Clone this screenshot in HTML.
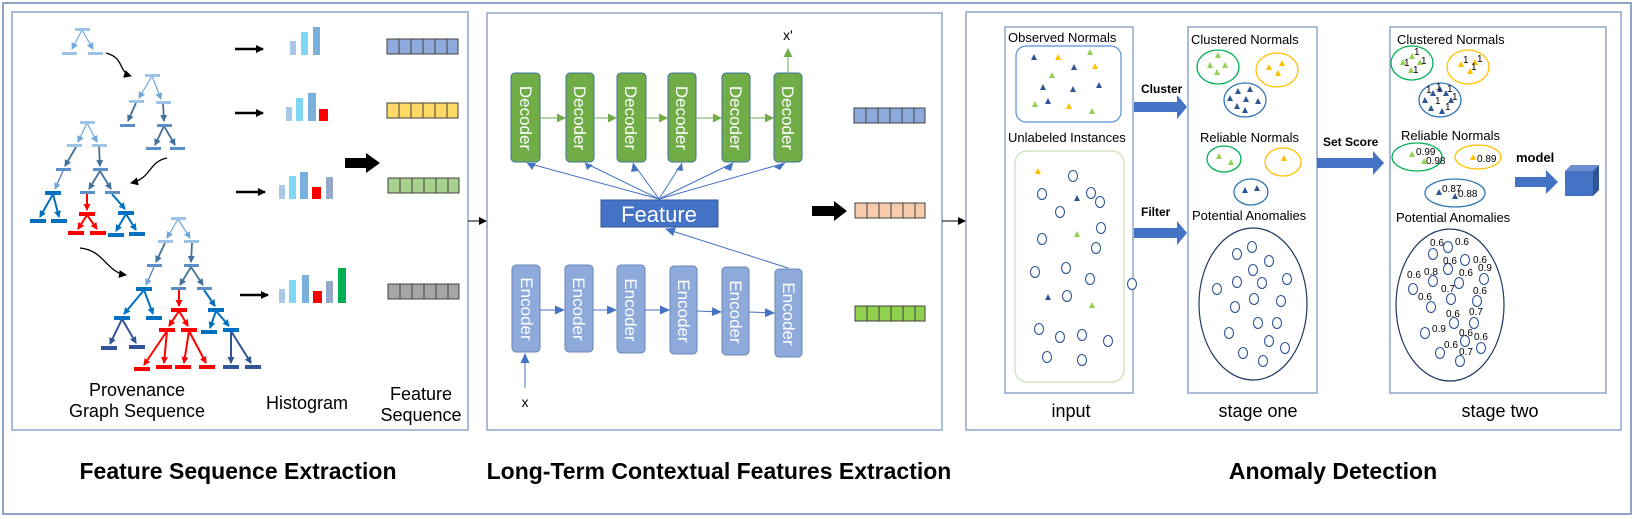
<!DOCTYPE html>
<html><head><meta charset="utf-8"><style>
html,body{margin:0;padding:0;background:#fff}
svg{display:block}
text{font-family:"Liberation Sans",sans-serif}
</style></head><body>
<svg width="1635" height="519" viewBox="0 0 1635 519" xmlns="http://www.w3.org/2000/svg">
<defs>
<marker id="ab" markerWidth="8" markerHeight="8" refX="7" refY="4" orient="auto" markerUnits="userSpaceOnUse"><path d="M0,0 L8,4 L0,8z" fill="#000"/></marker>
<marker id="ag" markerWidth="9" markerHeight="9" refX="8" refY="4.5" orient="auto" markerUnits="userSpaceOnUse"><path d="M0,0 L9,4.5 L0,9z" fill="#70ad47"/></marker>
<marker id="abl" markerWidth="10" markerHeight="9" refX="9" refY="4.5" orient="auto" markerUnits="userSpaceOnUse"><path d="M0,0 L10,4.5 L0,9z" fill="#4472c4"/></marker>
<marker id="t1" markerWidth="7" markerHeight="7" refX="6" refY="3.5" orient="auto" markerUnits="userSpaceOnUse"><path d="M0,0 L7,3.5 L0,7z" fill="#6fa8dc"/></marker>
<marker id="t2" markerWidth="7" markerHeight="7" refX="6" refY="3.5" orient="auto" markerUnits="userSpaceOnUse"><path d="M0,0 L7,3.5 L0,7z" fill="#0070c0"/></marker>
<marker id="t3" markerWidth="7" markerHeight="7" refX="6" refY="3.5" orient="auto" markerUnits="userSpaceOnUse"><path d="M0,0 L7,3.5 L0,7z" fill="#ff0000"/></marker>
<marker id="t4" markerWidth="7" markerHeight="7" refX="6" refY="3.5" orient="auto" markerUnits="userSpaceOnUse"><path d="M0,0 L7,3.5 L0,7z" fill="#2f5597"/></marker>
<marker id="t5" markerWidth="7" markerHeight="7" refX="6" refY="3.5" orient="auto" markerUnits="userSpaceOnUse"><path d="M0,0 L7,3.5 L0,7z" fill="#41719c"/></marker>
</defs>

<rect x="3" y="3" width="1628" height="511" fill="none" stroke="#8fa5c8" stroke-width="2"/>
<rect x="12" y="12" width="456" height="418" fill="none" stroke="#8fa5c8" stroke-width="1.5"/>
<rect x="487" y="13" width="455" height="417" fill="none" stroke="#8fa5c8" stroke-width="1.5"/>
<rect x="966" y="12" width="655" height="418" fill="none" stroke="#8fa5c8" stroke-width="1.5"/>
<line x1="468" y1="221" x2="486" y2="221" stroke="#000" stroke-width="1" marker-end="url(#ab)"/>
<line x1="942" y1="221" x2="965" y2="221" stroke="#000" stroke-width="1" marker-end="url(#ab)"/>

<g stroke-width="1.2" fill="none">
<g stroke="#6fa8dc"><line x1="82" y1="30" x2="72" y2="49" marker-end="url(#t1)"/><line x1="82" y1="30" x2="93" y2="49" marker-end="url(#t1)"/></g>
<g stroke="#6fa8dc"><line x1="152" y1="76" x2="139" y2="98" marker-end="url(#t1)"/><line x1="152" y1="76" x2="161" y2="99" marker-end="url(#t1)"/></g>
<g stroke="#41719c" stroke-width="1.8"><line x1="136" y1="103" x2="128" y2="121" marker-end="url(#t5)"/><line x1="163" y1="103" x2="164" y2="121" marker-end="url(#t5)"/><line x1="164" y1="126" x2="155" y2="145" marker-end="url(#t5)"/><line x1="164" y1="126" x2="175" y2="145" marker-end="url(#t5)"/></g>
<g stroke="#6fa8dc"><line x1="87" y1="123" x2="78" y2="142" marker-end="url(#t1)"/><line x1="87" y1="123" x2="97" y2="142" marker-end="url(#t1)"/></g>
<g stroke="#41719c" stroke-width="1.8"><line x1="76" y1="147" x2="65" y2="166" marker-end="url(#t5)"/><line x1="99" y1="147" x2="100" y2="166" marker-end="url(#t5)"/><line x1="100" y1="171" x2="89" y2="189" marker-end="url(#t5)"/><line x1="100" y1="171" x2="111" y2="189" marker-end="url(#t5)"/></g>
<line x1="63" y1="171" x2="55" y2="189" stroke="#4472c4" marker-end="url(#t1)"/>
<g stroke="#0070c0" stroke-width="2"><line x1="53" y1="194" x2="40" y2="217" marker-end="url(#t2)"/><line x1="53" y1="194" x2="59" y2="217" marker-end="url(#t2)"/><line x1="112" y1="194" x2="125" y2="209" marker-end="url(#t2)"/><line x1="126" y1="214" x2="116" y2="231" marker-end="url(#t2)"/><line x1="126" y1="214" x2="136" y2="230" marker-end="url(#t2)"/></g>
<g stroke="#ff0000" stroke-width="2"><line x1="87" y1="194" x2="87" y2="210" marker-end="url(#t3)"/><line x1="87" y1="215" x2="78" y2="229" marker-end="url(#t3)"/><line x1="87" y1="215" x2="97" y2="229" marker-end="url(#t3)"/></g>
<g stroke="#6fa8dc"><line x1="178" y1="219" x2="167" y2="238" marker-end="url(#t1)"/><line x1="178" y1="219" x2="190" y2="238" marker-end="url(#t1)"/></g>
<g stroke="#41719c" stroke-width="1.8"><line x1="165" y1="243" x2="156" y2="262" marker-end="url(#t5)"/><line x1="192" y1="243" x2="191" y2="262" marker-end="url(#t5)"/><line x1="191" y1="267" x2="180" y2="285" marker-end="url(#t5)"/><line x1="191" y1="267" x2="203" y2="285" marker-end="url(#t5)"/></g>
<line x1="154" y1="267" x2="146" y2="285" stroke="#4472c4" marker-end="url(#t1)"/>
<g stroke="#0070c0" stroke-width="2"><line x1="144" y1="290" x2="124" y2="314" marker-end="url(#t2)"/><line x1="144" y1="290" x2="153" y2="314" marker-end="url(#t2)"/><line x1="204" y1="290" x2="215" y2="306" marker-end="url(#t2)"/><line x1="216" y1="311" x2="210" y2="328" marker-end="url(#t2)"/><line x1="216" y1="311" x2="229" y2="326" marker-end="url(#t2)"/></g>
<g stroke="#2f5597" stroke-width="2"><line x1="122" y1="319" x2="110" y2="344" marker-end="url(#t4)"/><line x1="122" y1="319" x2="136" y2="343" marker-end="url(#t4)"/><line x1="231" y1="331" x2="231" y2="363" marker-end="url(#t4)"/><line x1="231" y1="331" x2="251" y2="363" marker-end="url(#t4)"/></g>
<g stroke="#ff0000" stroke-width="2"><line x1="179" y1="290" x2="179" y2="306" marker-end="url(#t3)"/><line x1="179" y1="311" x2="169" y2="326" marker-end="url(#t3)"/><line x1="179" y1="311" x2="188" y2="326" marker-end="url(#t3)"/><line x1="167" y1="331" x2="144" y2="365" marker-end="url(#t3)"/><line x1="167" y1="331" x2="164" y2="363" marker-end="url(#t3)"/><line x1="189" y1="331" x2="184" y2="363" marker-end="url(#t3)"/><line x1="189" y1="331" x2="206" y2="363" marker-end="url(#t3)"/></g>
</g>
<g>
<g fill="#9dc3e6"><rect x="75" y="28" width="15" height="3"/><rect x="62" y="52" width="15" height="3"/><rect x="88" y="52" width="15" height="3"/>
<rect x="145" y="74" width="15" height="3"/><rect x="129" y="100" width="15" height="3"/><rect x="156" y="101" width="15" height="3"/>
<rect x="80" y="121" width="15" height="3"/><rect x="67" y="144" width="15" height="3"/><rect x="92" y="144" width="15" height="3"/>
<rect x="171" y="217" width="15" height="3"/><rect x="158" y="240" width="15" height="3"/><rect x="184" y="240" width="15" height="3"/></g>
<g fill="#5b8fc7"><rect x="120" y="124" width="15" height="3"/><rect x="157" y="124" width="15" height="3"/><rect x="146" y="147" width="15" height="3"/><rect x="170" y="147" width="15" height="3"/>
<rect x="56" y="168" width="15" height="3"/><rect x="93" y="168" width="15" height="3"/><rect x="80" y="191" width="15" height="3"/><rect x="105" y="191" width="15" height="3"/>
<rect x="147" y="264" width="15" height="3"/><rect x="184" y="264" width="15" height="3"/><rect x="171" y="287" width="15" height="3"/><rect x="197" y="287" width="15" height="3"/></g>
<g fill="#0070c0"><rect x="45" y="191" width="16" height="4"/><rect x="30" y="219" width="16" height="4"/><rect x="51" y="219" width="16" height="4"/><rect x="118" y="211" width="16" height="4"/><rect x="108" y="233" width="16" height="4"/><rect x="129" y="232" width="16" height="4"/>
<rect x="136" y="287" width="16" height="4"/><rect x="114" y="316" width="16" height="4"/><rect x="146" y="316" width="16" height="4"/><rect x="208" y="308" width="16" height="4"/><rect x="201" y="330" width="16" height="4"/><rect x="223" y="328" width="16" height="4"/></g>
<g fill="#2f5597"><rect x="101" y="346" width="16" height="4"/><rect x="129" y="345" width="16" height="4"/><rect x="223" y="365" width="16" height="4"/><rect x="245" y="365" width="16" height="4"/></g>
<g fill="#ff0000"><rect x="79" y="212" width="16" height="4"/><rect x="68" y="231" width="16" height="4"/><rect x="90" y="231" width="16" height="4"/>
<rect x="171" y="308" width="16" height="4"/><rect x="159" y="328" width="16" height="4"/><rect x="181" y="328" width="16" height="4"/><rect x="134" y="367" width="16" height="4"/><rect x="156" y="365" width="16" height="4"/><rect x="175" y="365" width="16" height="4"/><rect x="199" y="365" width="16" height="4"/></g>
</g>
<g stroke="#000" stroke-width="1.3" fill="none">
<path d="M106,53 C125,58 118,72 131,76" marker-end="url(#ab)"/>
<path d="M167,158 C148,162 152,178 131,183" marker-end="url(#ab)"/>
<path d="M80,248 C104,250 106,272 126,275" marker-end="url(#ab)"/>
</g>
<g stroke="#000" stroke-width="2.5"><line x1="235" y1="49" x2="263" y2="49" marker-end="url(#ab)"/><line x1="235" y1="113" x2="263" y2="113" marker-end="url(#ab)"/><line x1="236" y1="192" x2="265" y2="192" marker-end="url(#ab)"/><line x1="240" y1="295" x2="268" y2="295" marker-end="url(#ab)"/></g>
<path d="M345,158 L366,158 L366,153 L380,163 L366,173 L366,168 L345,168z" fill="#000"/>
<g><rect x="290" y="41" width="6" height="14" fill="#a9c8e8"/><rect x="301" y="32" width="7" height="23" fill="#7fd6f5"/><rect x="313" y="27" width="7" height="28" fill="#7ab0dc"/>
<rect x="286" y="107" width="6" height="14" fill="#a9c8e8"/><rect x="296" y="98" width="7" height="23" fill="#7fd6f5"/><rect x="308" y="93" width="8" height="28" fill="#7ab0dc"/><rect x="319" y="109" width="9" height="12" fill="#ff0000"/>
<rect x="279" y="185" width="6" height="14" fill="#a9c8e8"/><rect x="289" y="176" width="7" height="23" fill="#7fd6f5"/><rect x="300" y="172" width="8" height="27" fill="#7ab0dc"/><rect x="312" y="187" width="9" height="12" fill="#ff0000"/><rect x="326" y="177" width="7" height="22" fill="#95a7cb"/>
<rect x="279" y="289" width="6" height="14" fill="#a9c8e8"/><rect x="289" y="280" width="7" height="23" fill="#7fd6f5"/><rect x="302" y="275" width="7" height="28" fill="#7ab0dc"/><rect x="313" y="291" width="9" height="12" fill="#ff0000"/><rect x="326" y="281" width="7" height="22" fill="#95a7cb"/><rect x="338" y="268" width="8" height="35" fill="#00b050"/></g>
<g stroke="#404040" stroke-width="1">
<g fill="#8faadc"><rect x="387" y="39" width="12" height="15"/><rect x="399" y="39" width="12" height="15"/><rect x="411" y="39" width="12" height="15"/><rect x="423" y="39" width="12" height="15"/><rect x="435" y="39" width="12" height="15"/><rect x="447" y="39" width="11" height="15"/></g>
<g fill="#ffd966"><rect x="387" y="103" width="12" height="15"/><rect x="399" y="103" width="12" height="15"/><rect x="411" y="103" width="12" height="15"/><rect x="423" y="103" width="12" height="15"/><rect x="435" y="103" width="12" height="15"/><rect x="447" y="103" width="11" height="15"/></g>
<g fill="#a9d18e"><rect x="388" y="178" width="12" height="15"/><rect x="400" y="178" width="12" height="15"/><rect x="412" y="178" width="12" height="15"/><rect x="424" y="178" width="12" height="15"/><rect x="436" y="178" width="12" height="15"/><rect x="448" y="178" width="11" height="15"/></g>
<g fill="#a6a6a6"><rect x="388" y="284" width="12" height="15"/><rect x="400" y="284" width="12" height="15"/><rect x="412" y="284" width="12" height="15"/><rect x="424" y="284" width="12" height="15"/><rect x="436" y="284" width="12" height="15"/><rect x="448" y="284" width="11" height="15"/></g>
</g>
<g font-size="18" fill="#000" text-anchor="middle">
<text x="137" y="396">Provenance</text><text x="137" y="417">Graph Sequence</text>
<text x="307" y="409">Histogram</text>
<text x="421" y="400">Feature</text><text x="421" y="421">Sequence</text>
</g>

<g stroke="#41719c" stroke-width="1" fill="#70ad47">
<rect x="511" y="73" width="29" height="89" rx="4"/><rect x="566" y="73" width="28" height="89" rx="4"/><rect x="617" y="73" width="29" height="89" rx="4"/><rect x="668" y="73" width="28" height="89" rx="4"/><rect x="722" y="73" width="28" height="89" rx="4"/><rect x="774" y="73" width="28" height="89" rx="4"/>
</g>
<g stroke="#6b86b8" stroke-width="1" fill="#8eaadb">
<rect x="512" y="265" width="28" height="87" rx="4"/><rect x="565" y="265" width="28" height="87" rx="4"/><rect x="617" y="265" width="28" height="88" rx="4"/><rect x="670" y="266" width="27" height="88" rx="4"/><rect x="722" y="267" width="27" height="88" rx="4"/><rect x="775" y="269" width="27" height="88" rx="4"/>
</g>
<g fill="#fff" font-size="17" text-anchor="middle">
<text transform="translate(520,118) rotate(90)">Decoder</text><text transform="translate(574,118) rotate(90)">Decoder</text><text transform="translate(625,118) rotate(90)">Decoder</text><text transform="translate(676,118) rotate(90)">Decoder</text><text transform="translate(730,118) rotate(90)">Decoder</text><text transform="translate(782,118) rotate(90)">Decoder</text>
<text transform="translate(521,309) rotate(90)">Encoder</text><text transform="translate(573,309) rotate(90)">Encoder</text><text transform="translate(625,310) rotate(90)">Encoder</text><text transform="translate(678,311) rotate(90)">Encoder</text><text transform="translate(730,312) rotate(90)">Encoder</text><text transform="translate(783,314) rotate(90)">Encoder</text>
</g>
<g stroke="#70ad47" stroke-width="1"><line x1="540" y1="118" x2="565" y2="118" marker-end="url(#ag)"/><line x1="594" y1="118" x2="616" y2="118" marker-end="url(#ag)"/><line x1="646" y1="118" x2="667" y2="118" marker-end="url(#ag)"/><line x1="696" y1="118" x2="721" y2="118" marker-end="url(#ag)"/><line x1="750" y1="118" x2="773" y2="118" marker-end="url(#ag)"/><line x1="788" y1="73" x2="788" y2="49" marker-end="url(#ag)"/></g>
<g stroke="#4472c4" stroke-width="1"><line x1="540" y1="310" x2="564" y2="310" marker-end="url(#abl)"/><line x1="593" y1="310" x2="616" y2="310" marker-end="url(#abl)"/><line x1="645" y1="310" x2="669" y2="310" marker-end="url(#abl)"/><line x1="697" y1="311" x2="721" y2="312" marker-end="url(#abl)"/><line x1="749" y1="312" x2="774" y2="313" marker-end="url(#abl)"/>
<line x1="525" y1="388" x2="525" y2="354" marker-end="url(#abl)"/>
<line x1="788" y1="268" x2="666" y2="229" marker-end="url(#abl)"/>
<line x1="659" y1="199" x2="527" y2="163"/><line x1="659" y1="199" x2="585" y2="163"/><line x1="659" y1="199" x2="633" y2="163"/><line x1="659" y1="199" x2="682" y2="163"/><line x1="659" y1="199" x2="733" y2="163"/><line x1="659" y1="199" x2="785" y2="163"/>
</g>
<g fill="#4472c4"><path d="M527,163 l9,0 l-4,7z"/><path d="M585,163 l8,2 l-6,5z"/><path d="M633,163 l5,8 l-7,1z"/><path d="M682,163 l1,8 l-7,-1z"/><path d="M733,163 l-2,8 l-7,-3z"/><path d="M785,163 l-5,7 l-6,-3z"/></g>
<rect x="601" y="200" width="117" height="27" fill="#4472c4" stroke="#2f5597" stroke-width="1"/>
<text x="659" y="222" fill="#fff" font-size="22" text-anchor="middle">Feature</text>
<text x="788" y="40" font-size="14" text-anchor="middle">x'</text>
<text x="525" y="407" font-size="14" text-anchor="middle">x</text>
<path d="M812,206 L834,206 L834,201 L847,211 L834,221 L834,216 L812,216z" fill="#000"/>
<g stroke="#404040" stroke-width="1">
<g fill="#8faadc"><rect x="854" y="108" width="12" height="15"/><rect x="866" y="108" width="12" height="15"/><rect x="878" y="108" width="12" height="15"/><rect x="890" y="108" width="12" height="15"/><rect x="902" y="108" width="12" height="15"/><rect x="914" y="108" width="11" height="15"/></g>
<g fill="#f8cbad"><rect x="855" y="203" width="12" height="15"/><rect x="867" y="203" width="12" height="15"/><rect x="879" y="203" width="12" height="15"/><rect x="891" y="203" width="12" height="15"/><rect x="903" y="203" width="12" height="15"/><rect x="915" y="203" width="10" height="15"/></g>
<g fill="#92d050"><rect x="855" y="306" width="12" height="15"/><rect x="867" y="306" width="12" height="15"/><rect x="879" y="306" width="12" height="15"/><rect x="891" y="306" width="12" height="15"/><rect x="903" y="306" width="12" height="15"/><rect x="915" y="306" width="10" height="15"/></g>
</g>

<g fill="none" stroke="#8fa5c8" stroke-width="1.5">
<rect x="1005" y="27" width="128" height="366"/><rect x="1188" y="27" width="129" height="366"/><rect x="1390" y="27" width="216" height="366"/>
</g>
<rect x="1016" y="46" width="105" height="76" rx="10" fill="none" stroke="#5b8fd8" stroke-width="1.2"/>
<rect x="1015" y="151" width="109" height="231" rx="12" fill="none" stroke="#c5e0b4" stroke-width="1.2"/>
<g font-size="13" fill="#000">
<text x="1008" y="42">Observed Normals</text><text x="1008" y="142">Unlabeled Instances</text>
<text x="1191" y="44">Clustered Normals</text><text x="1200" y="142">Reliable Normals</text><text x="1192" y="220">Potential Anomalies</text>
<text x="1397" y="44">Clustered Normals</text><text x="1401" y="140">Reliable Normals</text><text x="1396" y="222">Potential Anomalies</text>
</g>
<g font-size="12" font-weight="bold" fill="#000"><text x="1141" y="93">Cluster</text><text x="1141" y="216">Filter</text><text x="1323" y="146">Set Score</text><text x="1516" y="162" font-size="13">model</text></g>
<g font-size="18" fill="#000" text-anchor="middle"><text x="1071" y="417">input</text><text x="1258" y="417">stage one</text><text x="1500" y="417">stage two</text></g>
<g fill="#4472c4">
<path d="M1134,102 L1177,102 L1177,95 L1187,107 L1177,119 L1177,112 L1134,112z"/>
<path d="M1134,228 L1177,228 L1177,221 L1187,233 L1177,245 L1177,238 L1134,238z"/>
<path d="M1317,158 L1373,158 L1373,151 L1384,163 L1373,175 L1373,168 L1317,168z"/>
<path d="M1515,177 L1546,177 L1546,170 L1558,182 L1546,194 L1546,187 L1515,187z"/>
<path d="M1565,171 L1593,171 L1593,196 L1565,196z"/>
</g>
<path d="M1565,171 L1571,165 L1599,165 L1593,171z" fill="#6f8fd0"/><path d="M1593,171 L1599,165 L1599,190 L1593,196z" fill="#2f5597"/>
<g>
<g fill="#2f5597"><path d="M1034,54 l-3,6 h6z"/><path d="M1074,64 l-3,6 h6z"/><path d="M1043,84 l-3,6 h6z"/><path d="M1073,86 l-3,6 h6z"/><path d="M1099,82 l-3,6 h6z"/><path d="M1048,98 l-3,6 h6z"/><path d="M1077,195 l-3,6 h6z"/><path d="M1048,294 l-3,6 h6z"/></g>
<g fill="#ffc000"><path d="M1058,54 l-3,6 h6z"/><path d="M1095,63 l-3,6 h6z"/><path d="M1069,103 l-3,6 h6z"/><path d="M1038,168 l-3,6 h6z"/></g>
<g fill="#92d050"><path d="M1090,49 l-3,6 h6z"/><path d="M1052,72 l-3,6 h6z"/><path d="M1035,101 l-3,6 h6z"/><path d="M1092,108 l-3,6 h6z"/><path d="M1077,231 l-3,6 h6z"/><path d="M1092,302 l-3,6 h6z"/></g>
</g>
<g fill="none" stroke="#2f5597" stroke-width="1.1">
<ellipse cx="1073" cy="176" rx="4.5" ry="5.5"/><ellipse cx="1042" cy="194" rx="4.5" ry="5.5"/><ellipse cx="1091" cy="193" rx="4.5" ry="5.5"/><ellipse cx="1100" cy="202" rx="4.5" ry="5.5"/><ellipse cx="1060" cy="212" rx="4.5" ry="5.5"/><ellipse cx="1101" cy="228" rx="4.5" ry="5.5"/><ellipse cx="1042" cy="239" rx="4.5" ry="5.5"/><ellipse cx="1096" cy="248" rx="4.5" ry="5.5"/><ellipse cx="1035" cy="272" rx="4.5" ry="5.5"/><ellipse cx="1066" cy="268" rx="4.5" ry="5.5"/><ellipse cx="1090" cy="279" rx="4.5" ry="5.5"/><ellipse cx="1067" cy="296" rx="4.5" ry="5.5"/><ellipse cx="1039" cy="329" rx="4.5" ry="5.5"/><ellipse cx="1060" cy="337" rx="4.5" ry="5.5"/><ellipse cx="1082" cy="335" rx="4.5" ry="5.5"/><ellipse cx="1108" cy="341" rx="4.5" ry="5.5"/><ellipse cx="1047" cy="357" rx="4.5" ry="5.5"/><ellipse cx="1082" cy="360" rx="4.5" ry="5.5"/><ellipse cx="1132" cy="284" rx="4.5" ry="5.5" fill="#fff"/>
<ellipse cx="1253" cy="304" rx="54" ry="76" stroke="#1f3864" stroke-width="1.2"/>
<ellipse cx="1237" cy="254" rx="4.5" ry="5.5"/><ellipse cx="1252" cy="247" rx="4.5" ry="5.5"/><ellipse cx="1269" cy="261" rx="4.5" ry="5.5"/><ellipse cx="1253" cy="270" rx="4.5" ry="5.5"/><ellipse cx="1237" cy="282" rx="4.5" ry="5.5"/><ellipse cx="1262" cy="283" rx="4.5" ry="5.5"/><ellipse cx="1287" cy="279" rx="4.5" ry="5.5"/><ellipse cx="1217" cy="289" rx="4.5" ry="5.5"/><ellipse cx="1235" cy="307" rx="4.5" ry="5.5"/><ellipse cx="1254" cy="299" rx="4.5" ry="5.5"/><ellipse cx="1281" cy="301" rx="4.5" ry="5.5"/><ellipse cx="1258" cy="323" rx="4.5" ry="5.5"/><ellipse cx="1277" cy="323" rx="4.5" ry="5.5"/><ellipse cx="1229" cy="333" rx="4.5" ry="5.5"/><ellipse cx="1269" cy="341" rx="4.5" ry="5.5"/><ellipse cx="1285" cy="348" rx="4.5" ry="5.5"/><ellipse cx="1243" cy="353" rx="4.5" ry="5.5"/><ellipse cx="1263" cy="361" rx="4.5" ry="5.5"/>
<ellipse cx="1450" cy="305" rx="54" ry="76" stroke="#1f3864" stroke-width="1.2"/>
<ellipse cx="1448" cy="247" rx="4.5" ry="5.5"/><ellipse cx="1433" cy="254" rx="4.5" ry="5.5"/><ellipse cx="1465" cy="260" rx="4.5" ry="5.5"/><ellipse cx="1448" cy="269" rx="4.5" ry="5.5"/><ellipse cx="1484" cy="279" rx="4.5" ry="5.5"/><ellipse cx="1433" cy="281" rx="4.5" ry="5.5"/><ellipse cx="1459" cy="283" rx="4.5" ry="5.5"/><ellipse cx="1413" cy="289" rx="4.5" ry="5.5"/><ellipse cx="1451" cy="299" rx="4.5" ry="5.5"/><ellipse cx="1477" cy="301" rx="4.5" ry="5.5"/><ellipse cx="1431" cy="307" rx="4.5" ry="5.5"/><ellipse cx="1454" cy="323" rx="4.5" ry="5.5"/><ellipse cx="1474" cy="323" rx="4.5" ry="5.5"/><ellipse cx="1425" cy="333" rx="4.5" ry="5.5"/><ellipse cx="1465" cy="341" rx="4.5" ry="5.5"/><ellipse cx="1481" cy="348" rx="4.5" ry="5.5"/><ellipse cx="1440" cy="353" rx="4.5" ry="5.5"/><ellipse cx="1460" cy="361" rx="4.5" ry="5.5"/>
</g>
<g font-size="10" fill="#000" text-anchor="middle">
<text x="1437" y="246">0.6</text><text x="1462" y="245">0.6</text><text x="1450" y="264">0.6</text><text x="1480" y="263">0.6</text><text x="1485" y="271">0.9</text><text x="1414" y="278">0.6</text><text x="1431" y="275">0.8</text><text x="1466" y="276">0.6</text><text x="1448" y="292">0.7</text><text x="1480" y="294">0.6</text><text x="1425" y="300">0.6</text><text x="1453" y="317">0.6</text><text x="1476" y="315">0.7</text><text x="1439" y="332">0.9</text><text x="1466" y="336">0.6</text><text x="1481" y="340">0.6</text><text x="1451" y="348">0.6</text><text x="1466" y="355">0.7</text>
</g>
<g fill="none" stroke-width="1.3">
<ellipse cx="1218" cy="67" rx="21" ry="17" stroke="#00b050"/><ellipse cx="1277" cy="70" rx="21" ry="17" stroke="#ffc000"/><ellipse cx="1245" cy="100" rx="21" ry="17" stroke="#2e75b6"/>
<ellipse cx="1224" cy="159" rx="17" ry="13" stroke="#00b050"/><ellipse cx="1283" cy="162" rx="18" ry="14" stroke="#ffc000"/><ellipse cx="1251" cy="192" rx="17" ry="13" stroke="#2e75b6"/>
<ellipse cx="1412" cy="63" rx="21" ry="17" stroke="#00b050"/><ellipse cx="1468" cy="67" rx="21" ry="17" stroke="#ffc000"/><ellipse cx="1440" cy="100" rx="21" ry="17" stroke="#2e75b6"/>
<ellipse cx="1417" cy="157" rx="25" ry="14" stroke="#00b050"/><ellipse cx="1478" cy="157" rx="23" ry="12" stroke="#ffc000"/><ellipse cx="1455" cy="193" rx="30" ry="14" stroke="#2e75b6"/>
</g>
<g fill="#92d050"><path d="M1218,52 l-3,6 h6z"/><path d="M1210,62 l-3,6 h6z"/><path d="M1225,62 l-3,6 h6z"/><path d="M1217,69 l-3,6 h6z"/><path d="M1219,153 l-3,6 h6z"/><path d="M1231,159 l-3,6 h6z"/>
<path d="M1412,53 l-3,6 h6z"/><path d="M1403,59 l-3,6 h6z"/><path d="M1420,59 l-3,6 h6z"/><path d="M1411,67 l-3,6 h6z"/><path d="M1412,151 l-3,6 h6z"/><path d="M1424,158 l-3,6 h6z"/></g>
<g fill="#ffc000"><path d="M1269,64 l-3,6 h6z"/><path d="M1282,60 l-3,6 h6z"/><path d="M1278,70 l-3,6 h6z"/><path d="M1284,155 l-3,6 h6z"/>
<path d="M1461,61 l-3,6 h6z"/><path d="M1475,59 l-3,6 h6z"/><path d="M1470,68 l-3,6 h6z"/><path d="M1473,154 l-3,6 h6z"/></g>
<g fill="#2f5597"><path d="M1238,88 l-3,6 h6z"/><path d="M1250,86 l-3,6 h6z"/><path d="M1230,95 l-3,6 h6z"/><path d="M1246,96 l-3,6 h6z"/><path d="M1258,98 l-3,6 h6z"/><path d="M1237,103 l-3,6 h6z"/><path d="M1245,107 l-3,6 h6z"/><path d="M1245,187 l-3,6 h6z"/><path d="M1257,185 l-3,6 h6z"/>
<path d="M1433,90 l-3,6 h6z"/><path d="M1440,86 l-3,6 h6z"/><path d="M1446,90 l-3,6 h6z"/><path d="M1425,97 l-3,6 h6z"/><path d="M1451,97 l-3,6 h6z"/><path d="M1431,105 l-3,6 h6z"/><path d="M1442,108 l-3,6 h6z"/><path d="M1439,189 l-3,6 h6z"/><path d="M1455,193 l-3,6 h6z"/></g>
<g font-size="10" fill="#000">
<text x="1404" y="66">1</text><text x="1414" y="55">1</text><text x="1421" y="64">1</text><text x="1413" y="73">1</text>
<text x="1463" y="63">1</text><text x="1477" y="62">1</text><text x="1471" y="70">1</text>
<text x="1426" y="93">1</text><text x="1436" y="90">1</text><text x="1447" y="92">1</text><text x="1452" y="100">1</text><text x="1435" y="104">1</text><text x="1445" y="110">1</text>
<text x="1416" y="155">0.99</text><text x="1426" y="164">0.98</text><text x="1477" y="162">0.89</text><text x="1442" y="192">0.87</text><text x="1458" y="197">0.88</text>
</g>

<g font-size="23" font-weight="bold" fill="#000" text-anchor="middle">
<text x="238" y="479">Feature Sequence Extraction</text>
<text x="719" y="479">Long-Term Contextual Features Extraction</text>
<text x="1333" y="479">Anomaly Detection</text>
</g>
</svg>
</body></html>
